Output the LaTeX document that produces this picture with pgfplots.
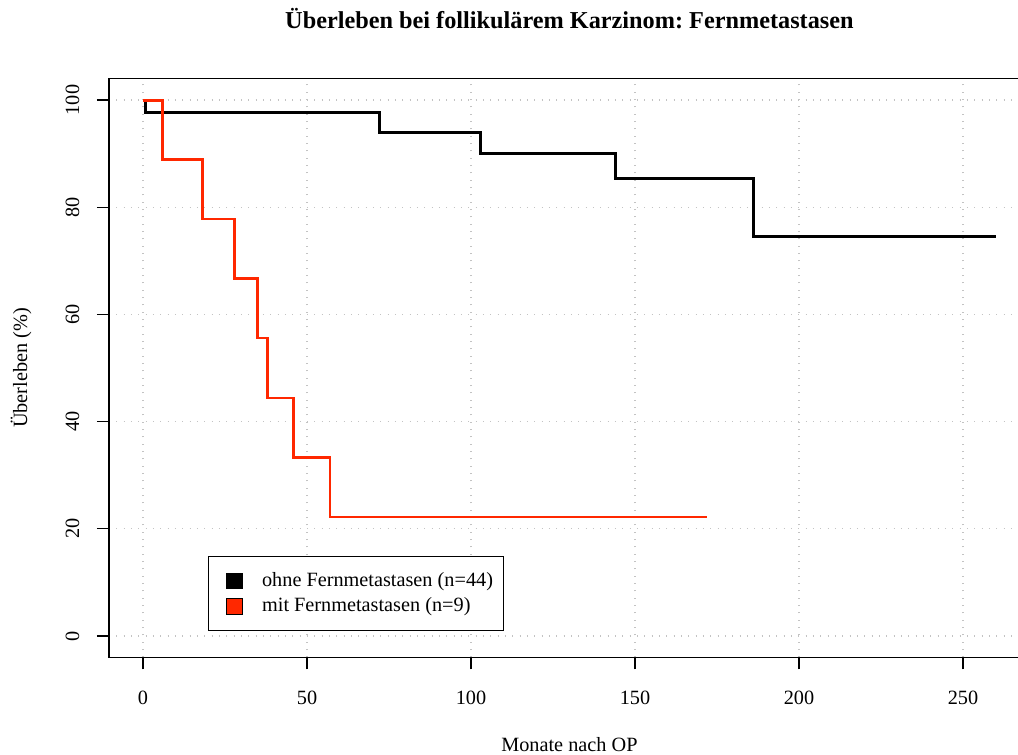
\documentclass[border=0pt]{standalone}
\usepackage{pgfplots}
\pgfplotsset{compat=1.18}
\usepackage{fontspec}
\setmainfont{Liberation Serif}
\definecolor{kmred}{RGB}{255,40,0}
\definecolor{gridgray}{RGB}{195,195,195}
\frenchspacing
\begin{document}
\fontsize{15.2}{18}\selectfont
\begin{tikzpicture}
\begin{axis}[
  scale only axis, width=690.75pt, height=434.1pt,
  xmin=-10.4, xmax=270.4, ymin=-4, ymax=104,
  xtick={0,50,100,150,200,250}, ytick={0,20,40,60,80,100},
  tick align=outside, xtick pos=bottom, ytick pos=left,
  major tick length=9pt,
  tick style={black, line width=0.9pt},
  axis line style={line width=1.1pt},
  grid=major,
  major grid style={gridgray, line width=0.85pt, dash pattern=on 0.85pt off 4.65pt},
  /pgf/number format/assume math mode=true,
  ticklabel style={font=\fontsize{15.2}{18}\selectfont},
  xticklabel style={anchor=base}, xticklabel shift=26pt,
  yticklabel style={rotate=90, anchor=base}, yticklabel shift=13.4pt,
  xlabel={Monate nach OP},
  xlabel style={at={([yshift=-70.5pt]axis description cs:0.5,0)}, anchor=base, inner sep=0pt, text depth=0pt, font=\fontsize{15.2}{18}\selectfont},
  ylabel={Überleben (\%)},
  ylabel style={at={([xshift=-61.4pt]axis description cs:0,0.5)}, rotate=0, anchor=base, font=\fontsize{15.2}{18}\selectfont},
  title={Überleben bei follikulärem Karzinom: Fernmetastasen},
  title style={at={([yshift=31.2pt]axis description cs:0.5,1)}, anchor=base, font=\bfseries\fontsize{18.2}{22}\selectfont},
  legend cell align=left,
  legend style={at={(0.1076,0.175)}, anchor=north west, draw=black, line width=0.8pt,
    font=\fontsize{15.2}{18}\selectfont, inner xsep=5pt, inner ysep=9pt,
    nodes={inner sep=3pt}, column sep=11.25pt, row sep=0pt},
]
\addplot[black, line width=2.2pt, const plot,
  legend image code/.code={\path (0pt,0pt); \draw[black, line width=0.6pt, fill=black] (7.5pt,-5.75pt) rectangle (19.5pt,5.75pt);}]
  coordinates {(0,100) (0.7,97.7) (72,93.9) (103,90.0) (144,85.3) (186,74.6) (260,74.6)};
\addlegendentry{ohne Fernmetastasen (n=44)}
\addplot[kmred, line width=2.2pt, const plot,
  legend image code/.code={\path (0pt,0pt); \draw[black, line width=0.6pt, fill=kmred] (7.5pt,-5.75pt) rectangle (19.5pt,5.75pt);}]
  coordinates {(0,100) (6,88.9) (18,77.8) (28,66.7) (35,55.6) (38,44.4) (46,33.3) (57,22.2) (172,22.2)};
\addlegendentry{mit Fernmetastasen (n=9)}
\coordinate (SW) at (rel axis cs:0,0);
\end{axis}
\pgfresetboundingbox
\path[use as bounding box] ([xshift=-81.7pt,yshift=-72.45pt]SW) rectangle ([xshift=681.8pt,yshift=493.05pt]SW);
\end{tikzpicture}
\end{document}
